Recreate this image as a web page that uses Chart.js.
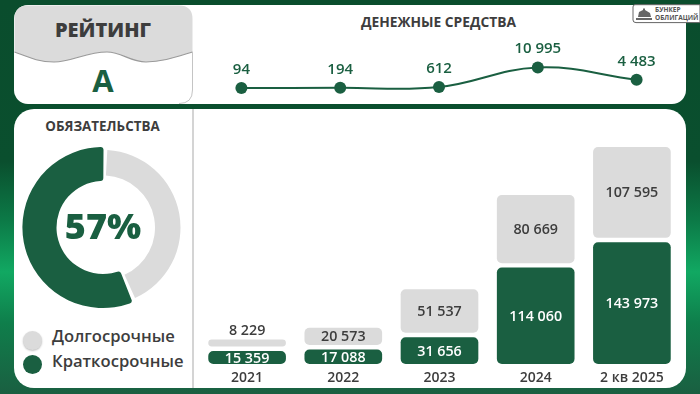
<!DOCTYPE html>
<html><head><meta charset="utf-8">
<script src="https://cdn.jsdelivr.net/npm/chart.js@4"></script>
<style>
html,body{margin:0;padding:0;width:700px;height:394px;overflow:hidden}
body{position:relative;font-family:"Open Sans",sans-serif;background:linear-gradient(180deg,#0a4d2d 0,#0a4f2e 41%,#0c7a47 56%,#11a862 69%,#0f7e4b 82%,#1a5f41 100%)}
.abs{position:absolute}
.panel{background:#fff}
.t{position:absolute;white-space:nowrap;transform:translate(-50%,-50%);font-weight:700;color:#3d3d3d}
canvas{position:absolute;display:block}
.dot{position:absolute;width:19px;height:19px;border-radius:50%}
.leg{position:absolute;left:52px;font-size:16.6px;font-weight:600;color:#3d3d3d;white-space:nowrap;transform:translateY(-50%)}
</style></head><body>
<div class="abs panel" style="left:14px;top:5px;width:672px;height:99px;border-radius:14px"></div>
<div class="abs panel" style="left:14px;top:109px;width:672px;height:279px;border-radius:20px"></div>
<div class="abs" style="left:192px;top:109px;width:1.5px;height:279px;background:#d4d4d4"></div>
<svg class="abs" style="left:14px;top:5px" width="180" height="99" viewBox="0 0 180 99">
<path d="M0.5 47 C14 52 24 57 40 57 C58 57 72 47 93 47 C108 47 116 57 132 57 C148 57 162 52 178.5 47 L178.5 14 Q178.5 .5 165 .5 L14 .5 Q.5 .5 .5 14 Z" fill="#dbdbdb"/>
<path d="M0.5 47 C14 52 24 57 40 57 C58 57 72 47 93 47 C108 47 116 57 132 57 C148 57 162 52 178.5 47" fill="none" stroke="#9a9a9a" stroke-width="1.1"/>
<path d="M178.5 47 L178.5 85 Q178.5 98.5 165 98.5" fill="none" stroke="#c4c4c4" stroke-width="1"/>
</svg>
<div class="t" style="left:103px;top:29px;font-size:20px;font-weight:800">РЕЙТИНГ</div>
<div class="t" style="left:103px;top:79.5px;font-size:31px;color:#1a5f41">A</div>
<div class="t" style="left:438.5px;top:21px;font-size:13.8px">ДЕНЕЖНЫЕ СРЕДСТВА</div>
<div class="t" style="left:102.5px;top:126px;font-size:13.4px">ОБЯЗАТЕЛЬСТВА</div>
<svg class="abs" style="left:631px;top:4px" width="69" height="20" viewBox="0 0 69 20">
<path d="M69 .7 L4 .7 Q2 .7 2 3 L2 16 Q2 18.6 5 18.6 L69 18.6 Z" fill="#fff" stroke="#666" stroke-width="1"/>
<path d="M5 16 L21 16 L21 14 L5 14 Z M7 13 L8 8 L12 6 L12 4.5 L14 4.5 L14 6 L19 9 L20 13 Z" fill="#666"/>
<text x="24" y="8" font-family="Open Sans" font-weight="700" font-size="6.5" fill="#555">БУНКЕР</text>
<text x="24" y="16" font-family="Open Sans" font-weight="700" font-size="6.5" fill="#555">ОБЛИГАЦИЙ</text>
</svg>
<div class="dot" style="left:23px;top:331px;background:#dbdbdb;box-shadow:0 1px 2px rgba(0,0,0,.25)"></div>
<div class="dot" style="left:23px;top:355px;background:#1a5f41"></div>
<div class="leg" style="top:335px">Долгосрочные</div>
<div class="leg" style="top:360px">Краткосрочные</div>
<canvas id="line" style="left:192px;top:5px;width:494px;height:99px"></canvas>
<canvas id="donut" style="left:18px;top:142px;width:170px;height:171px"></canvas>
<canvas id="bars" style="left:199px;top:109px;width:481px;height:279px"></canvas>
<script>
const categories = ["2021","2022","2023","2024","2 кв 2025"];
const cash = [94,194,612,10995,4483];
const longTerm = [8229,20573,51537,80669,107595];
const shortTerm = [15359,17088,31656,114060,143973];
const donutShare = [43,57];
const donutLabel = "57%";
const GREEN="#1a5f41", GREY="#dbdbdb", INK="#3d3d3d";
const FONT='"Open Sans", sans-serif';
const fmt=v=>String(v).replace(/\B(?=(\d{3})+$)/g," ");
Chart.defaults.animation=false;
Chart.defaults.font.family=FONT;
Chart.defaults.devicePixelRatio=1;

new Chart(document.getElementById("line"),{
  type:"line",
  data:{labels:categories,datasets:[{data:cash,borderColor:GREEN,borderWidth:2,tension:.4,pointRadius:6,pointBackgroundColor:GREEN,pointBorderWidth:0,clip:false}]},
  options:{responsive:false,layout:{padding:0,autoPadding:false},plugins:{legend:{display:false},tooltip:{enabled:false}},
    scales:{x:{display:false,offset:true},y:{display:false,min:-8417,max:44240}}},
  plugins:[{id:"lbl",afterDatasetsDraw(c){const x=c.ctx;x.save();x.font='600 15px '+FONT;x.fillStyle=GREEN;x.textAlign="center";x.textBaseline="middle";
    c.getDatasetMeta(0).data.forEach((p,i)=>x.fillText(fmt(cash[i]),p.x,p.y-18.5));x.restore();}}]
});

new Chart(document.getElementById("donut"),{
  type:"doughnut",
  data:{labels:["Долгосрочные","Краткосрочные"],datasets:[{data:donutShare,backgroundColor:[GREY,GREEN],borderWidth:0,borderRadius:[0,3],spacing:2}]},
  options:{responsive:false,rotation:2,radius:79.6,cutout:48,layout:{padding:0},plugins:{legend:{display:false},tooltip:{enabled:false}}},
  plugins:[{id:"thinGrey",afterDatasetsUpdate(c){const a=c.getDatasetMeta(0).data[0];a.outerRadius=76.5;a.innerRadius=51;}},
    {id:"mid",afterDraw(c){const a=c.getDatasetMeta(0).data[0],x=c.ctx;x.save();x.font='800 36px '+FONT;x.fillStyle=GREEN;x.textAlign="center";x.textBaseline="middle";x.fillText(donutLabel,a.x,a.y+1);x.restore();}}]
});

const GAP=5300;
new Chart(document.getElementById("bars"),{
  type:"bar",
  data:{labels:categories,datasets:[
    {label:"Краткосрочные",data:shortTerm,backgroundColor:GREEN},
    {label:"Долгосрочные",data:longTerm.map((v,i)=>[shortTerm[i]+GAP,shortTerm[i]+GAP+v]),backgroundColor:GREY}
  ]},
  options:{responsive:false,layout:{padding:0},
    datasets:{bar:{grouped:false,barPercentage:.9,categoryPercentage:.897,borderRadius:5,borderSkipped:false}},
    plugins:{legend:{display:false},tooltip:{enabled:false}},
    scales:{
      x:{grid:{display:false},border:{display:false},ticks:{color:INK,font:{size:14,weight:"600"},padding:-2,maxRotation:0},afterFit(s){s.height=24;}},
      y:{display:false,min:0,max:301775}
    }},
  plugins:[{id:"vals",afterDatasetsDraw(c){const x=c.ctx;x.save();x.font='600 14.3px '+FONT;x.textAlign="center";x.textBaseline="middle";
    c.getDatasetMeta(0).data.forEach((b,i)=>{x.fillStyle="#fff";x.fillText(fmt(shortTerm[i]),b.x,(b.y+b.base)/2+1);});
    c.getDatasetMeta(1).data.forEach((b,i)=>{x.fillStyle=INK;const top=Math.min(b.y,b.base),h=Math.abs(b.base-b.y);x.fillText(fmt(longTerm[i]),b.x,h<12?top-9:top+h/2+1);});
    x.restore();}}]
});
</script></body></html>
